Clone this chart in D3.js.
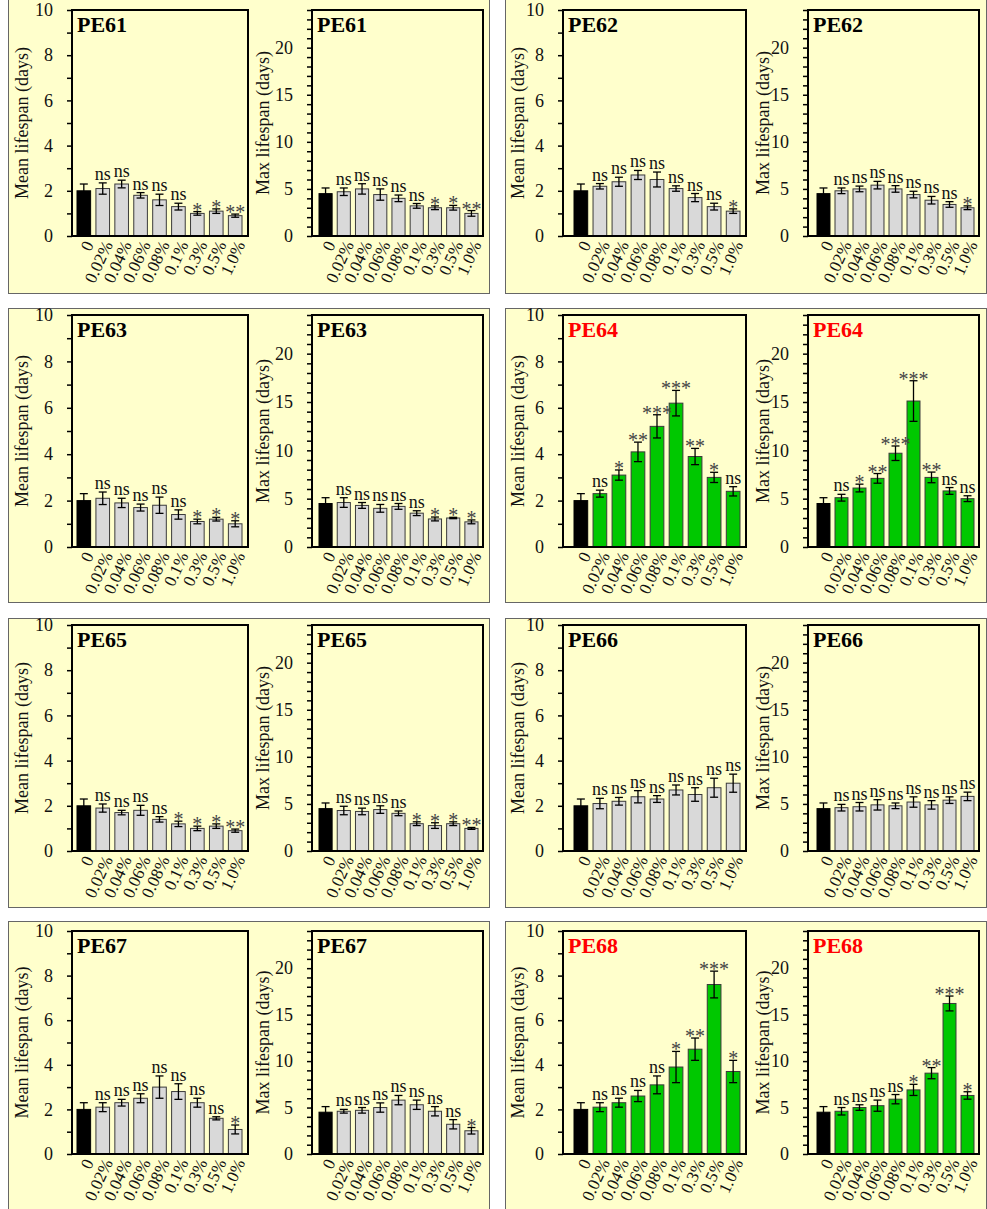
<!DOCTYPE html>
<html>
<head>
<meta charset="utf-8">
<script src="https://cdn.jsdelivr.net/npm/d3@7"></script>
<style>
  body { margin: 0; background: #fff; }
  svg { display: block; }
  svg text { font-family: "Liberation Serif", "Times New Roman", serif; }
</style>
</head>
<body>
<div id="chart"></div>
<script>
// categories and axis ticks
var doses = ["0", "0.02%", "0.04%", "0.06%", "0.08%", "0.1%", "0.3%", "0.5%", "1.0%"];
var meanTicks = [0, 2, 4, 6, 8, 10];
var maxTicks = [0, 5, 10, 15, 20];

// values (mean lifespan, max lifespan, error, significance)
var pe61Mean = [2.0, 2.1, 2.3, 1.8, 1.6, 1.3, 1.0, 1.1, 0.9];
var pe61MeanErr = [0.3, 0.25, 0.17, 0.12, 0.25, 0.15, 0.08, 0.1, 0.07];
var pe61MeanSig = ["", "ns", "ns", "ns", "ns", "ns", "*", "*", "**"];
var pe61Max = [4.5, 4.7, 5.0, 4.4, 4.0, 3.2, 3.0, 3.0, 2.4];
var pe61MaxErr = [0.6, 0.4, 0.55, 0.6, 0.35, 0.25, 0.2, 0.25, 0.3];
var pe61MaxSig = ["", "ns", "ns", "ns", "ns", "ns", "*", "*", "**"];

var pe62Mean = [2.0, 2.2, 2.4, 2.7, 2.5, 2.1, 1.7, 1.3, 1.1];
var pe62MeanErr = [0.3, 0.12, 0.2, 0.2, 0.33, 0.12, 0.18, 0.15, 0.1];
var pe62MeanSig = ["", "ns", "ns", "ns", "ns", "ns", "ns", "ns", "*"];
var pe62Max = [4.5, 4.8, 5.0, 5.4, 5.0, 4.4, 3.8, 3.35, 3.0];
var pe62MaxErr = [0.6, 0.3, 0.3, 0.4, 0.35, 0.35, 0.4, 0.3, 0.2];
var pe62MaxSig = ["", "ns", "ns", "ns", "ns", "ns", "ns", "ns", "*"];

var pe63Mean = [2.0, 2.1, 1.9, 1.7, 1.8, 1.4, 1.1, 1.2, 1.0];
var pe63MeanErr = [0.3, 0.27, 0.2, 0.15, 0.35, 0.2, 0.1, 0.08, 0.13];
var pe63MeanSig = ["", "ns", "ns", "ns", "ns", "ns", "*", "*", "*"];
var pe63Max = [4.5, 4.6, 4.3, 4.0, 4.2, 3.5, 2.9, 3.0, 2.6];
var pe63MaxErr = [0.6, 0.5, 0.3, 0.4, 0.3, 0.25, 0.2, 0.07, 0.2];
var pe63MaxSig = ["", "ns", "ns", "ns", "ns", "ns", "*", "*", "*"];

var pe64Mean = [2.0, 2.3, 3.1, 4.1, 5.2, 6.2, 3.9, 3.0, 2.4];
var pe64MeanErr = [0.3, 0.15, 0.22, 0.42, 0.5, 0.55, 0.35, 0.22, 0.2];
var pe64MeanSig = ["", "ns", "*", "**", "***", "***", "**", "*", "ns"];
var pe64Max = [4.5, 5.1, 6.1, 7.1, 9.7, 15.1, 7.2, 5.8, 5.0];
var pe64MaxErr = [0.6, 0.35, 0.4, 0.5, 0.75, 2.1, 0.55, 0.35, 0.3];
var pe64MaxSig = ["", "ns", "*", "**", "***", "***", "**", "ns", "ns"];

var pe65Mean = [2.0, 1.9, 1.7, 1.8, 1.4, 1.2, 1.0, 1.1, 0.9];
var pe65MeanErr = [0.3, 0.18, 0.1, 0.22, 0.12, 0.12, 0.1, 0.1, 0.07];
var pe65MeanSig = ["", "ns", "ns", "ns", "ns", "*", "*", "*", "**"];
var pe65Max = [4.5, 4.3, 4.2, 4.4, 4.0, 2.9, 2.7, 2.9, 2.4];
var pe65MaxErr = [0.6, 0.45, 0.35, 0.4, 0.25, 0.2, 0.3, 0.2, 0.1];
var pe65MaxSig = ["", "ns", "ns", "ns", "ns", "*", "*", "*", "**"];

var pe66Mean = [2.0, 2.1, 2.2, 2.4, 2.3, 2.7, 2.5, 2.8, 3.0];
var pe66MeanErr = [0.3, 0.23, 0.17, 0.27, 0.15, 0.22, 0.3, 0.42, 0.4];
var pe66MeanSig = ["", "ns", "ns", "ns", "ns", "ns", "ns", "ns", "ns"];
var pe66Max = [4.5, 4.6, 4.7, 4.9, 4.8, 5.2, 4.9, 5.4, 5.8];
var pe66MaxErr = [0.6, 0.35, 0.45, 0.55, 0.3, 0.55, 0.45, 0.35, 0.45];
var pe66MaxSig = ["", "ns", "ns", "ns", "ns", "ns", "ns", "ns", "ns"];

var pe67Mean = [2.0, 2.1, 2.3, 2.5, 3.0, 2.8, 2.3, 1.6, 1.1];
var pe67MeanErr = [0.3, 0.2, 0.15, 0.2, 0.5, 0.35, 0.2, 0.07, 0.2];
var pe67MeanSig = ["", "ns", "ns", "ns", "ns", "ns", "ns", "ns", "*"];
var pe67Max = [4.5, 4.6, 4.7, 5.0, 5.8, 5.3, 4.6, 3.2, 2.5];
var pe67MaxErr = [0.6, 0.2, 0.3, 0.5, 0.5, 0.5, 0.5, 0.5, 0.35];
var pe67MaxSig = ["", "ns", "ns", "ns", "ns", "ns", "ns", "ns", "*"];

var pe68Mean = [2.0, 2.1, 2.3, 2.6, 3.1, 3.9, 4.7, 7.6, 3.7];
var pe68MeanErr = [0.3, 0.2, 0.2, 0.25, 0.4, 0.7, 0.5, 0.6, 0.5];
var pe68MeanSig = ["", "ns", "ns", "ns", "ns", "*", "**", "***", "*"];
var pe68Max = [4.5, 4.6, 5.0, 5.2, 5.9, 6.9, 8.7, 16.2, 6.3];
var pe68MaxErr = [0.6, 0.4, 0.3, 0.6, 0.5, 0.6, 0.6, 0.8, 0.4];
var pe68MaxSig = ["", "ns", "ns", "ns", "ns", "*", "**", "***", "*"];

var samples = [
    {name: "PE61", hit: false, mean: pe61Mean, meanErr: pe61MeanErr, meanSig: pe61MeanSig, max: pe61Max, maxErr: pe61MaxErr, maxSig: pe61MaxSig},
    {name: "PE62", hit: false, mean: pe62Mean, meanErr: pe62MeanErr, meanSig: pe62MeanSig, max: pe62Max, maxErr: pe62MaxErr, maxSig: pe62MaxSig},
    {name: "PE63", hit: false, mean: pe63Mean, meanErr: pe63MeanErr, meanSig: pe63MeanSig, max: pe63Max, maxErr: pe63MaxErr, maxSig: pe63MaxSig},
    {name: "PE64", hit: true,  mean: pe64Mean, meanErr: pe64MeanErr, meanSig: pe64MeanSig, max: pe64Max, maxErr: pe64MaxErr, maxSig: pe64MaxSig},
    {name: "PE65", hit: false, mean: pe65Mean, meanErr: pe65MeanErr, meanSig: pe65MeanSig, max: pe65Max, maxErr: pe65MaxErr, maxSig: pe65MaxSig},
    {name: "PE66", hit: false, mean: pe66Mean, meanErr: pe66MeanErr, meanSig: pe66MeanSig, max: pe66Max, maxErr: pe66MaxErr, maxSig: pe66MaxSig},
    {name: "PE67", hit: false, mean: pe67Mean, meanErr: pe67MeanErr, meanSig: pe67MeanSig, max: pe67Max, maxErr: pe67MaxErr, maxSig: pe67MaxSig},
    {name: "PE68", hit: true,  mean: pe68Mean, meanErr: pe68MeanErr, meanSig: pe68MeanSig, max: pe68Max, maxErr: pe68MaxErr, maxSig: pe68MaxSig}
];

// layout of the 2 x 4 grid of panels
var cols = [
    {px: 8, pw: 481, mean: {fl: 72, fr: 248, bl: 77, br: 242}, max: {fl: 312, fr: 483, bl: 319, br: 478}},
    {px: 505, pw: 481, mean: {fl: 563, fr: 746, bl: 574, br: 740}, max: {fl: 808, fr: 979, bl: 817, br: 974}}
];
var rows = [
    {py: -6, ph: 299, ft: 10, fb: 236},
    {py: 308, ph: 294, ft: 315, fb: 547},
    {py: 618, ph: 289, ft: 625, fb: 851},
    {py: 921, ph: 300, ft: 931, fb: 1154}
];

var svg = d3.select("#chart")
    .append("svg")
    .attr("width", 987)
    .attr("height", 1209);

function drawChart(c) {
    var x = d3.scaleBand()
        .domain(doses)
        .range([c.bl, c.br])
        .paddingInner(0.28)
        .paddingOuter(0);
    var y = d3.scaleLinear()
        .domain([0, c.ymax])
        .range([c.fb, c.ft]);

    // y axis with minor ticks every unit
    var ax = svg.append("g")
        .attr("transform", "translate(" + c.fl + ",0)")
        .call(d3.axisLeft(y)
            .tickValues(d3.range(0, c.ymax + 1))
            .tickSize(5)
            .tickPadding(14)
            .tickFormat(function(d) { return c.ticks.indexOf(d) >= 0 ? d : ""; }));
    ax.select(".domain").remove();
    ax.selectAll("line").attr("stroke", "#000").attr("stroke-width", 1.5);
    ax.selectAll("text")
        .style("font-size", "18px")
        .attr("fill", "#111");

    // bars
    svg.append("g").selectAll("rect")
        .data(c.vals)
        .enter().append("rect")
        .attr("x", function(d, i) { return x(doses[i]); })
        .attr("y", function(d) { return y(d); })
        .attr("width", x.bandwidth())
        .attr("height", function(d) { return c.fb - y(d); })
        .attr("fill", function(d, i) { return i == 0 ? "#000" : (c.hit ? "#00c800" : "#d9d9d9"); })
        .attr("stroke", function(d, i) { return i == 0 ? "#000" : "#3a3a3a"; })
        .attr("stroke-width", 1);

    // error bars
    var eb = svg.append("g").attr("stroke", "#000").attr("stroke-width", 1.3);
    c.vals.forEach(function(v, i) {
        var cx = x(doses[i]) + x.bandwidth() / 2;
        var e = c.errs[i];
        eb.append("line").attr("x1", cx).attr("x2", cx).attr("y1", y(v - e)).attr("y2", y(v + e));
        eb.append("line").attr("x1", cx - 4).attr("x2", cx + 4).attr("y1", y(v + e)).attr("y2", y(v + e));
        eb.append("line").attr("x1", cx - 4).attr("x2", cx + 4).attr("y1", y(v - e)).attr("y2", y(v - e));
    });

    // significance marks
    svg.append("g").selectAll("text")
        .data(c.sigs)
        .enter().append("text")
        .attr("x", function(d, i) { return x(doses[i]) + x.bandwidth() / 2; })
        .attr("y", function(d, i) { return y(c.vals[i] + c.errs[i]) - (d == "ns" ? 3 : -5); })
        .attr("text-anchor", "middle")
        .style("font-size", function(d) { return d == "ns" ? "18px" : "20px"; })
        .attr("fill", function(d) { return d == "ns" ? "#111" : "#444"; })
        .text(function(d) { return d; });

    // frame
    svg.append("rect")
        .attr("x", c.fl).attr("y", c.ft)
        .attr("width", c.fr - c.fl).attr("height", c.fb - c.ft)
        .attr("fill", "none").attr("stroke", "#000").attr("stroke-width", 2);

    // rotated dose labels
    svg.append("g").selectAll("text")
        .data(doses)
        .enter().append("text")
        .attr("transform", function(d) {
            return "translate(" + (x(d) + x.bandwidth() / 2 + 5) + "," + (c.fb + 6) + ")rotate(-65)";
        })
        .attr("text-anchor", "end")
        .attr("dy", "0.35em")
        .style("font-size", "17px")
        .attr("fill", "#111")
        .text(function(d) { return d; });

    // y axis title
    svg.append("text")
        .attr("transform", "translate(" + (c.fl - c.labOff) + "," + ((c.ft + c.fb) / 2) + ")rotate(-90)")
        .attr("text-anchor", "middle")
        .attr("dy", "0.35em")
        .style("font-size", "18px")
        .attr("fill", "#111")
        .text(c.label);

    // sample name
    svg.append("text")
        .attr("x", c.fl + 5)
        .attr("y", c.ft + 22)
        .style("font-weight", "bold")
        .style("font-size", "22px")
        .attr("fill", c.hit ? "#ff0000" : "#000")
        .text(c.title);
}

samples.forEach(function(s, k) {
    var col = cols[k % 2], row = rows[Math.floor(k / 2)];

    // panel background
    svg.append("rect")
        .attr("x", col.px + 0.5).attr("y", row.py + 0.5)
        .attr("width", col.pw).attr("height", row.ph)
        .attr("fill", "#ffffcc")
        .attr("stroke", "#666")
        .attr("stroke-width", 1);

    drawChart({fl: col.mean.fl, fr: col.mean.fr, bl: col.mean.bl, br: col.mean.br,
        ft: row.ft, fb: row.fb, ymax: 10, ticks: meanTicks, labOff: k % 2 ? 45 : 50,
        label: "Mean lifespan (days)", title: s.name, hit: s.hit,
        vals: s.mean, errs: s.meanErr, sigs: s.meanSig});
    drawChart({fl: col.max.fl, fr: col.max.fr, bl: col.max.bl, br: col.max.br,
        ft: row.ft, fb: row.fb, ymax: 24, ticks: maxTicks, labOff: k % 2 ? 45 : 49,
        label: "Max lifespan (days)", title: s.name, hit: s.hit,
        vals: s.max, errs: s.maxErr, sigs: s.maxSig});
});
</script>
</body>
</html>
